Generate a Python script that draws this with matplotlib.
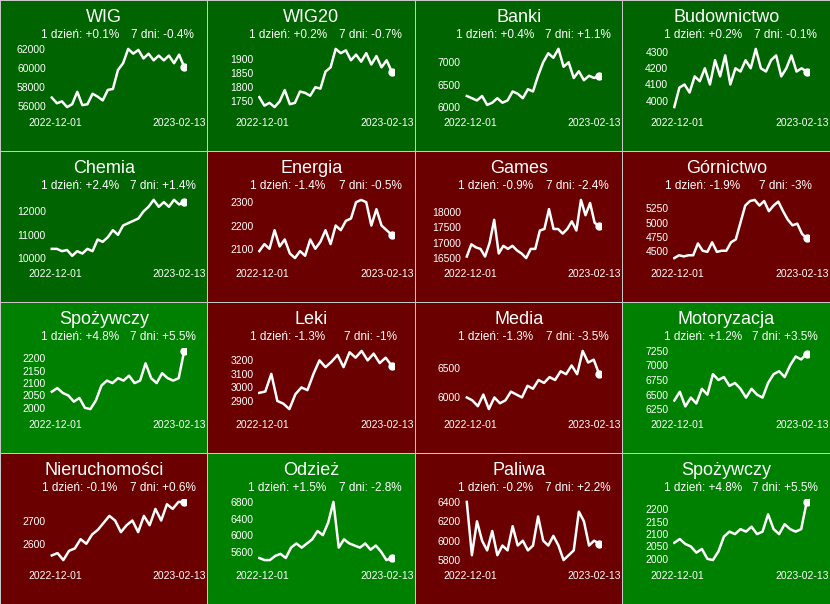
import matplotlib
matplotlib.use("Agg")
import matplotlib.pyplot as plt
import pandas as pd
import numpy as np

plt.rcParams['font.family'] = ['Liberation Sans', 'DejaVu Sans']

names = ["WIG","WIG20","Banki","Budownictwo","Chemia","Energia","Games","Górnictwo",
         "Spożywczy","Leki","Media","Motoryzacja","Nieruchomości","Odzież","Paliwa","Spożywczy"]
d1 = ["+0.1%","+0.2%","+0.4%","+0.2%","+2.4%","-1.4%","-0.9%","-1.9%",
      "+4.8%","-1.3%","-1.3%","+1.2%","-0.1%","+1.5%","-0.2%","+4.8%"]
d7 = ["-0.4%","-0.7%","+1.1%","-0.1%","+1.4%","-0.5%","-2.4%","-3%",
      "+5.5%","-1%","-3.5%","+3.5%","+0.6%","-2.8%","+2.2%","+5.5%"]
bg = ["#006400","#006400","#006400","#006400","#006400","#6a0000","#6a0000","#6a0000",
      "#008000","#6a0000","#6a0000","#008000","#6a0000","#008000","#6a0000","#008000"]

wig = [56900,56300,56500,55900,56200,57500,56100,56200,57300,57000,56600,57700,57800,59800,60500,62000,61500,61900,61000,61500,60800,61300,60800,61300,60500,61400,60100]
wig20 = [1765,1735,1745,1730,1750,1790,1740,1745,1785,1780,1770,1800,1795,1855,1870,1935,1920,1930,1895,1915,1890,1920,1880,1910,1870,1895,1855]
banki = [6250,6200,6150,6250,6050,6100,6200,6100,6150,6350,6300,6200,6400,6350,6700,7000,7200,7100,7300,6900,7000,6650,6800,6600,6700,6650,6700]
budow = [3960,4080,4100,4050,4150,4120,4200,4100,4250,4150,4280,4100,4200,4180,4250,4200,4320,4200,4180,4250,4280,4150,4200,4280,4180,4200,4180]
chemia = [10400,10400,10300,10350,10100,10300,10200,10400,10300,10800,10700,10900,11200,11000,11400,11500,11600,11700,12000,12200,12500,12200,12400,12200,12500,12300,12400]
energia = [2090,2120,2100,2180,2110,2140,2080,2060,2090,2070,2140,2100,2130,2180,2120,2200,2180,2220,2230,2300,2310,2300,2200,2270,2200,2180,2160]
games = [16550,16950,16850,16800,16550,17000,17750,16650,16900,16800,16900,16750,16650,16500,16800,16800,17400,17450,18100,17450,17450,17300,17450,17700,17400,18400,17900,18300,17650,17550]
gornictwo = [4370,4420,4400,4420,4420,4630,4500,4480,4650,4480,4500,4500,4650,4700,5000,5300,5380,5400,5300,5380,5200,5300,5370,5200,5050,4950,4980,4800,4720]
spozywczy = [2065,2080,2060,2050,2025,2040,2000,1995,2030,2090,2110,2100,2120,2110,2130,2100,2110,2180,2120,2100,2140,2120,2110,2120,2230]
leki = [2960,2970,3100,2900,2880,2840,2950,3000,2980,3100,3200,3150,3190,3240,3150,3260,3220,3270,3200,3250,3180,3220,3160]
media = [6000,5950,5850,6050,5800,6000,5900,5950,6100,6050,6000,6200,6150,6300,6250,6350,6300,6450,6400,6550,6400,6800,6600,6650,6400]
motor = [6400,6550,6300,6450,6350,6600,6500,6850,6750,6800,6650,6700,6600,6450,6600,6500,6450,6700,6850,6900,6800,7000,7150,7100,7200]
nieruch = [2550,2560,2530,2570,2580,2620,2600,2640,2660,2690,2720,2700,2650,2680,2700,2650,2720,2680,2750,2700,2770,2750,2780,2780]
odziez = [5450,5400,5400,5500,5550,5450,5700,5800,5700,5800,5900,6100,6000,6300,6800,5700,5900,5800,5750,5700,5800,5650,5750,5600,5400,5450]
paliwa = [6400,5850,6200,6000,5900,6100,5850,5950,5900,6150,5950,6000,5900,5950,6250,6000,5950,6050,5950,5800,5850,5900,6300,6200,5950,6000,5970]
series = [wig,wig20,banki,budow,chemia,energia,games,gornictwo,spozywczy,leki,media,motor,nieruch,odziez,paliwa,spozywczy]
ticks = [[56000,58000,60000,62000],[1750,1800,1850,1900],[6000,6500,7000],[4000,4100,4200,4300],
         [10000,11000,12000],[2100,2200,2300],[16500,17000,17500,18000],[4500,4750,5000,5250],
         [2000,2050,2100,2150,2200],[2900,3000,3100,3200],[6000,6500],[6250,6500,6750,7000,7250],
         [2600,2700],[5600,6000,6400,6800],[5800,6000,6200,6400],[2000,2050,2100,2150,2200]]
start, end = pd.Timestamp("2022-12-01"), pd.Timestamp("2023-02-13")

W, H = 830, 604
fig = plt.figure(figsize=(8.3, 6.04), dpi=100, facecolor="#c8c8c8")
cw, ch = W/4, H/4
for i in range(16):
    r, c = divmod(i, 4)
    x0, y0 = c*cw, H-(r+1)*ch
    b = fig.add_axes([(x0+0.5)/W, (y0+0.5)/H, (cw-1)/W, (ch-1)/H])
    b.set_facecolor(bg[i]); b.set_xticks([]); b.set_yticks([])
    b.set_xlim(0, cw); b.set_ylim(ch, 0)
    for s in b.spines.values(): s.set_visible(False)
    b.text(cw/2, 17, names[i], color="white", fontsize=13, ha="center", va="center")
    b.text(80, 35, "1 dzień: " + d1[i], color="white", fontsize=8.5, ha="center", va="center")
    b.text(163, 35, "7 dni: " + d7[i], color="white", fontsize=8.5, ha="center", va="center")
    b.text(55, 123, start.strftime("%Y-%m-%d"), color="white", fontsize=7.5, ha="center", va="center")
    b.text(180, 123, end.strftime("%Y-%m-%d"), color="white", fontsize=7.5, ha="center", va="center")
    ax = fig.add_axes([(x0+50)/W, (y0+ch-110)/H, 136/W, 64/H])
    ax.patch.set_alpha(0)
    v = series[i]
    dates = pd.date_range(start, end, periods=len(v))
    ax.plot(dates, v, color="white", lw=1.8)
    ax.plot(dates[-1], v[-1], "o", color="white", ms=5)
    for s in ax.spines.values(): s.set_visible(False)
    ax.set_yticks(ticks[i])
    ax.set_xticks([])
    ax.tick_params(colors="white", labelsize=7.5, length=0, pad=3)
    ax.set_xlim(start - pd.Timedelta(days=1), end + pd.Timedelta(days=1))
    lo, hi = min(v), max(v)
    pad = (hi-lo)*0.05
    ax.set_ylim(min(lo, ticks[i][0]) - pad, max(hi, ticks[i][-1]) + pad)
fig.savefig("out.png", dpi=100, facecolor=fig.get_facecolor())
